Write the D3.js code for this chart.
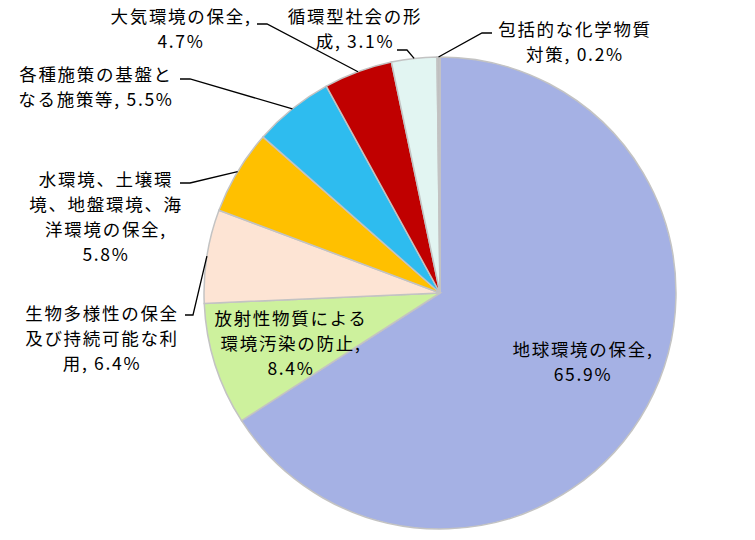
<!DOCTYPE html>
<html>
<head>
<meta charset="utf-8">
<script src="https://cdn.jsdelivr.net/npm/d3@7"></script>
<style>
  body { margin: 0; background: #fff; }
  svg text { font-family: "Noto Sans CJK JP", "Noto Sans", sans-serif; }
</style>
</head>
<body>
<div class="chart"></div>
<script>
// data
let categories = [
    "地球環境の保全",
    "放射性物質による環境汚染の防止",
    "生物多様性の保全及び持続可能な利用",
    "水環境、土壌環境、地盤環境、海洋環境の保全",
    "各種施策の基盤となる施策等",
    "大気環境の保全",
    "循環型社会の形成",
    "包括的な化学物質対策"
]
let values = [65.9, 8.4, 6.4, 5.8, 5.5, 4.7, 3.1, 0.2]
let colors = ["#a5b1e4", "#cdf19d", "#fde4d4", "#ffc000", "#2ebcef", "#c00000", "#e2f5f2", "#bfbfbf"]

// label layout: line break lengths, text centre, leader (start, elbow) or none
let labelLayout = [
    { breaks: [8], cx: 583, cy: 348, leader: null },
    { breaks: [8, 8], cx: 291, cy: 317, leader: null },
    { breaks: [8, 8], cx: 102, cy: 312, leader: [[185, 315], [193, 315]] },
    { breaks: [7, 8, 7], cx: 106, cy: 178, leader: [[180, 183], [190, 183]] },
    { breaks: [8], cx: 96, cy: 73, leader: [[180, 79], [190, 79]] },
    { breaks: [8], cx: 181, cy: 15, leader: [[257, 24], [267, 24]] },
    { breaks: [7], cx: 355, cy: 15, leader: [[397, 50], [407, 50]] },
    { breaks: [8], cx: 575, cy: 28, leader: [[492, 33], [482, 33]] }
]

let svgWidth = 755
let svgHeight = 540
let cx = 440, cy = 293, radius = 236
let lineHeight = 25.3

let svg = d3.select('.chart')
    .append('svg')
    .attr('width', svgWidth)
    .attr('height', svgHeight)

let data = categories.map((c, i) => ({ name: c, value: values[i], i: i }))

let pie = d3.pie()
    .sort(null)
    .value(d => d.value)

let arc = d3.arc().innerRadius(0).outerRadius(radius)
let edge = d3.arc().innerRadius(radius).outerRadius(radius)

let g = svg.append('g')
    .attr('transform', `translate(${cx},${cy})`)

let arcs = pie(data)

g.selectAll('path.slice')
    .data(arcs)
    .enter()
    .append('path')
    .attr('class', 'slice')
    .attr('d', arc)
    .attr('fill', d => colors[d.data.i])
    .attr('stroke', '#c3c3c3')
    .attr('stroke-width', 1.5)

// split label text into lines
function labelLines(d, breaks) {
    let s = d.name + ", " + d.value.toFixed(1) + "%"
    let lines = []
    let pos = 0
    breaks.forEach(b => {
        lines.push(s.slice(pos, pos + b).trim())
        pos += b
    })
    lines.push(s.slice(pos).trim())
    return lines
}

arcs.forEach(a => {
    let lay = labelLayout[a.data.i]
    let lines = labelLines(a.data, lay.breaks)

    if (lay.leader) {
        let c = edge.centroid(a)
        let pts = [lay.leader[0], lay.leader[1], [c[0] + cx, c[1] + cy]]
        svg.append('path')
            .attr('d', d3.line()(pts))
            .attr('fill', 'none')
            .attr('stroke', '#000')
            .attr('stroke-width', 1.3)
    }

    let t = svg.append('text')
        .attr('text-anchor', 'middle')
        .attr('font-size', 17.5)
        .attr('letter-spacing', 1.7)
        .attr('fill', '#000')
    lines.forEach((ln, k) => {
        t.append('tspan')
            .attr('x', lay.cx)
            .attr('y', lay.cy + k * lineHeight)
            .attr('dominant-baseline', 'central')
            .text(ln)
    })
})
</script>
</body>
</html>
